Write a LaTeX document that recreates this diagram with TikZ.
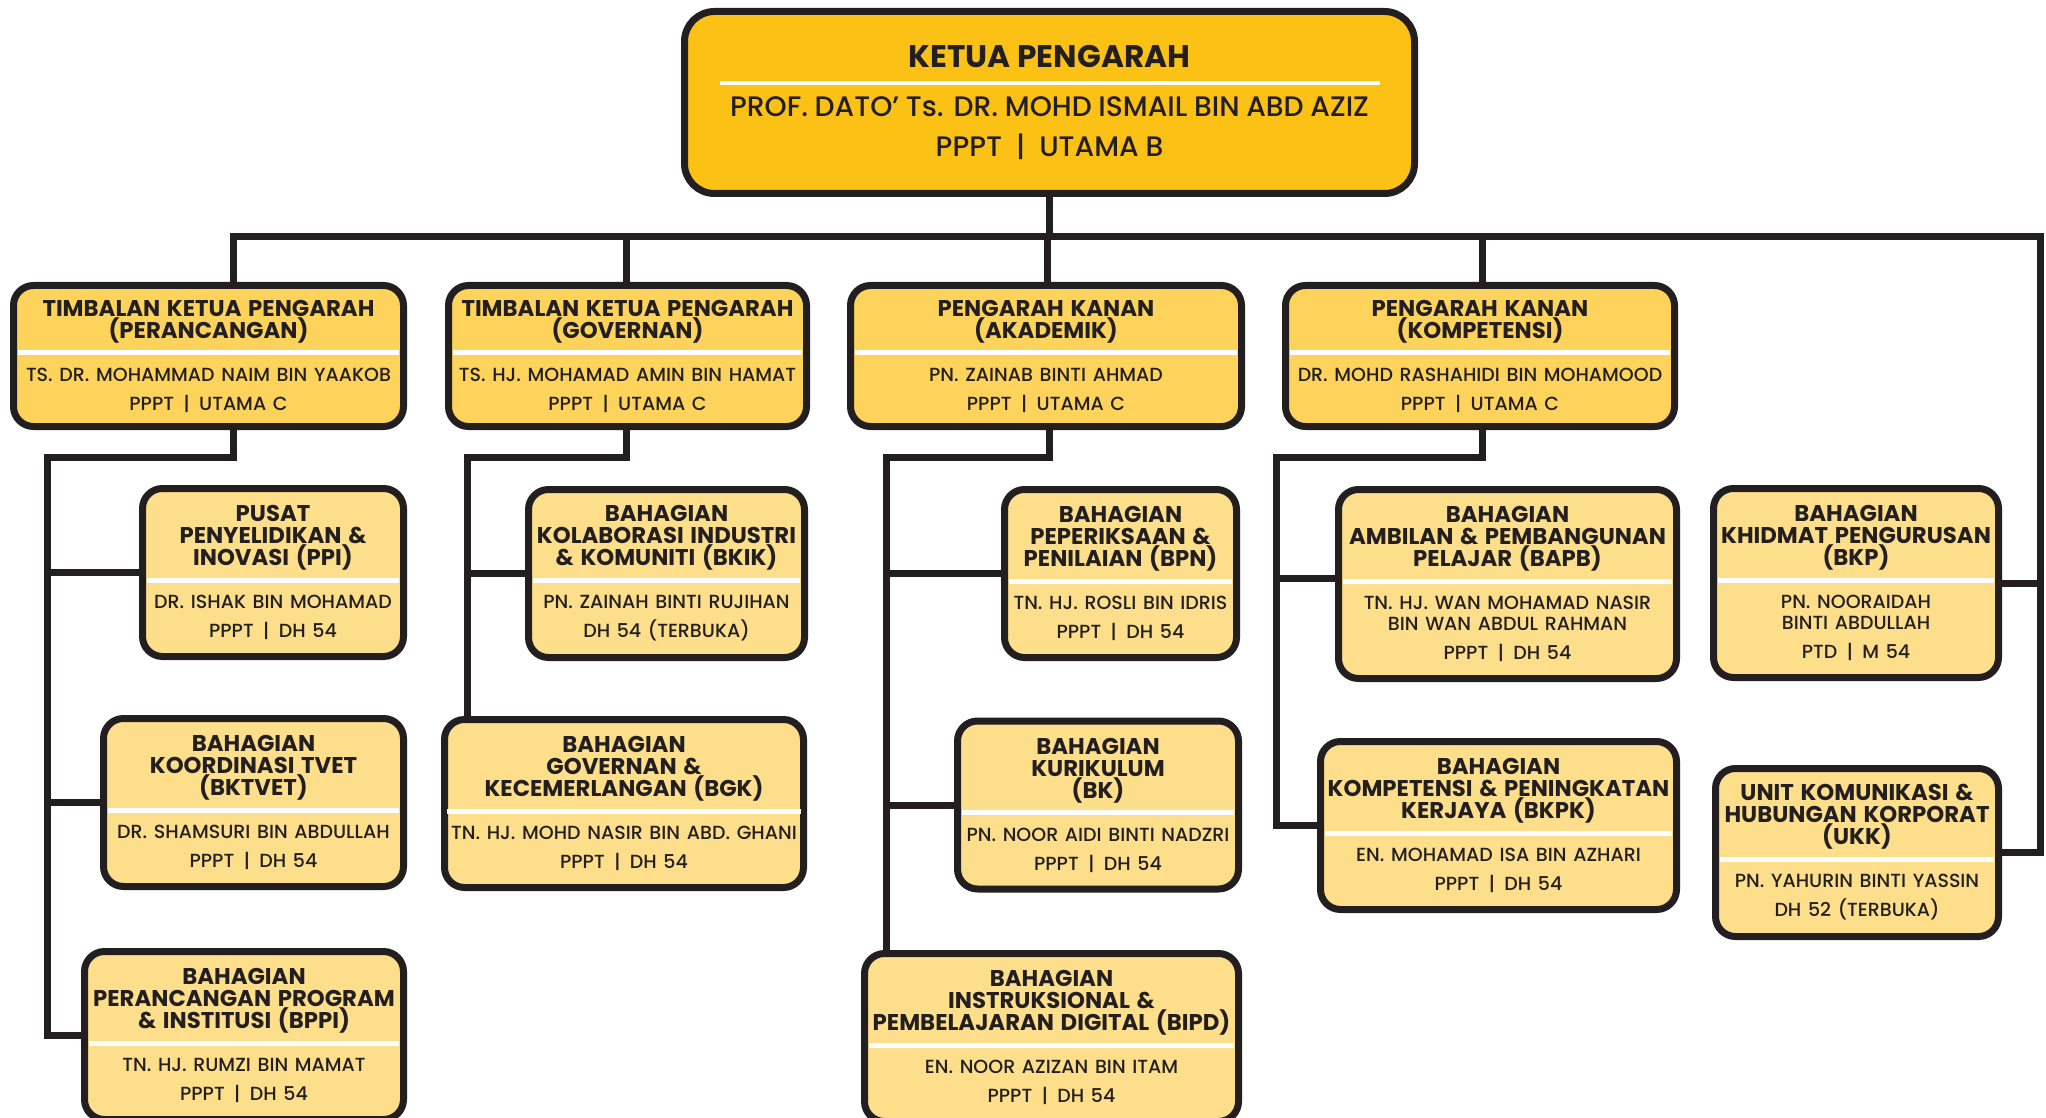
\documentclass[tikz,border=0pt]{standalone}
\usepackage{fontspec}
\setmainfont{Poppins}[UprightFont=* Medium, BoldFont=* Bold]
\usepackage{tikz}
\usetikzlibrary{positioning}
\setlength{\parindent}{0pt}

\definecolor{ink}{HTML}{231F20}
\definecolor{topfill}{HTML}{FBC114}
\definecolor{midfill}{HTML}{FDD35B}
\definecolor{lowfill}{HTML}{FDDE8A}

\newcommand{\ttlfont}{\fontsize{11.4}{11}\selectfont\bfseries}
\newcommand{\nmfont}{\fontsize{9.5}{10.5}\selectfont}
\newcommand{\sep}{\enspace|\enspace}
\newcommand{\orgtext}[3]{%
  {\ttlfont #1\par}%
  \vskip\dimexpr 6pt-\prevdepth\relax
  \nointerlineskip
  {\color{white}\hrule height 2.5pt}%
  \vskip 2.5pt\prevdepth=0pt
  {\nmfont #2\par}%
  \vskip 4pt
  {\nmfont #3\par}}

\begin{document}
\begin{tikzpicture}[x=0.5pt, y=-0.5pt,
  orgbox/.style={draw=ink, line width=3.5pt, text=ink, align=center, inner xsep=2.25pt, inner ysep=0pt},
  topbox/.style={orgbox, fill=topfill, rounded corners=15pt, minimum width=365pt, minimum height=91pt, text width=330pt},
  box2/.style={orgbox, fill=midfill, rounded corners=10pt, minimum height=70.5pt, text width=#1},
  box3/.style={orgbox, fill=lowfill, rounded corners=10pt, minimum height=84pt, text width=#1},
  conn/.style={draw=ink, line width=3.5pt}]

\useasboundingbox (0,0) rectangle (2046,1118);

% --- KETUA PENGARAH ---
\node[topbox] (ketua) at (1049.5,102.5) {{\fontsize{15.6}{16}\selectfont\bfseries KETUA PENGARAH\par}
  \vskip\dimexpr 6.5pt-\prevdepth\relax\nointerlineskip
  {\color{white}\hrule height 2pt}\vskip 2.25pt\prevdepth=0pt
  {\fontsize{14.1}{13.5}\selectfont PROF. DATO’ Ts. DR. MOHD ISMAIL BIN ABD AZIZ\par}
  \vskip 6.5pt
  {\fontsize{14.1}{13.5}\selectfont PPPT\sep UTAMA B\par}};

% --- Level 2 ---
\node[box2=190.5pt] (tkpP) at (208.5,356) {\orgtext{TIMBALAN KETUA PENGARAH\\(PERANCANGAN)}{TS. DR. MOHAMMAD NAIM BIN YAAKOB}{PPPT\sep UTAMA C}};
\node[box2=174.5pt] (tkpG) at (627.5,356) {\orgtext{TIMBALAN KETUA PENGARAH\\(GOVERNAN)}{TS. HJ. MOHAMAD AMIN BIN HAMAT}{PPPT\sep UTAMA C}};
\node[box2=191pt] (pkA) at (1046,356) {\orgtext{PENGARAH KANAN\\(AKADEMIK)}{PN. ZAINAB BINTI AHMAD}{PPPT\sep UTAMA C}};
\node[box2=190pt] (pkK) at (1480,356) {\orgtext{PENGARAH KANAN\\(KOMPETENSI)}{DR. MOHD RASHAHIDI BIN MOHAMOOD}{PPPT\sep UTAMA C}};

% --- Level 3: Perancangan ---
\node[box3=126pt] (ppi) at (273,572.5) {\orgtext{PUSAT\\PENYELIDIKAN \&\\INOVASI (PPI)}{DR. ISHAK BIN MOHAMAD}{PPPT\sep DH 54}};
\node[box3=145.5pt] (bktvet) at (253.5,802.5) {\orgtext{BAHAGIAN\\KOORDINASI TVET\\(BKTVET)}{DR. SHAMSURI BIN ABDULLAH}{PPPT\sep DH 54}};
\node[box3=155pt] (bppi) at (244,1035.5) {\orgtext{BAHAGIAN\\PERANCANGAN PROGRAM\\\& INSTITUSI (BPPI)}{TN. HJ. RUMZI BIN MAMAT}{PPPT\sep DH 54}};

% --- Level 3: Governan ---
\node[box3=133.5pt] (bkik) at (666.5,573.5) {\orgtext{BAHAGIAN\\KOLABORASI INDUSTRI\\\& KOMUNITI (BKIK)}{PN. ZAINAH BINTI RUJIHAN}{DH 54 (TERBUKA)}};
\node[box3=177pt, inner xsep=1.25pt] (bgk) at (624,803.5) {\orgtext{BAHAGIAN\\GOVERNAN \&\\KECEMERLANGAN (BGK)}{TN. HJ. MOHD NASIR BIN ABD. GHANI}{PPPT\sep DH 54}};

% --- Level 3: Akademik ---
\node[box3=111.5pt] (bpn) at (1120.5,573.5) {\orgtext{BAHAGIAN\\PEPERIKSAAN \&\\PENILAIAN (BPN)}{TN. HJ. ROSLI BIN IDRIS}{PPPT\sep DH 54}};
\node[box3=136pt] (bk) at (1098,805) {\orgtext{BAHAGIAN\\KURIKULUM\\(BK)}{PN. NOOR AIDI BINTI NADZRI}{PPPT\sep DH 54}};
\node[box3=182.5pt] (bipd) at (1051.5,1037.5) {\orgtext{BAHAGIAN\\INSTRUKSIONAL \&\\PEMBELAJARAN DIGITAL (BIPD)}{EN. NOOR AZIZAN BIN ITAM}{PPPT\sep DH 54}};

% --- Level 3: Kompetensi ---
\node[box3=164.5pt, minimum height=94.5pt] (bapb) at (1507.5,584) {\orgtext{BAHAGIAN\\AMBILAN \& PEMBANGUNAN\\PELAJAR (BAPB)}{TN. HJ. WAN MOHAMAD NASIR\\BIN WAN ABDUL RAHMAN}{PPPT\sep DH 54}};
\node[box3=173.5pt] (bkpk) at (1498.5,825.5) {\orgtext{BAHAGIAN\\KOMPETENSI \& PENINGKATAN\\KERJAYA (BKPK)}{EN. MOHAMAD ISA BIN AZHARI}{PPPT\sep DH 54}};

% --- Level 3: right column ---
\node[box3=138pt, minimum height=94.5pt] (bkp) at (1856,583) {\orgtext{BAHAGIAN\\KHIDMAT PENGURUSAN\\(BKP)}{PN. NOORAIDAH\\BINTI ABDULLAH}{PTD\sep M 54}};
\node[box3=137pt] (ukk) at (1857,852.5) {\orgtext{UNIT KOMUNIKASI \&\\HUBUNGAN KORPORAT\\(UKK)}{PN. YAHURIN BINTI YASSIN}{DH 52 (TERBUKA)}};

% --- Connectors ---
\coordinate (busL) at (233,237);
\coordinate (busR) at (2040,237);
\coordinate (dG) at (626,237);
\coordinate (dA) at (1047,237);
\coordinate (dK) at (1482,237);
\draw[conn] (ketua.south) -- (ketua.south |- busL);
\draw[conn] (busL |- tkpP.north) -- (busL) -- (busR) |- (ukk.east);
\draw[conn] (bkp.east -| busR) -- (bkp.east);
\draw[conn] (dG) -- (dG |- tkpG.north);
\draw[conn] (dA) -- (dA |- pkA.north);
\draw[conn] (dK) -- (dK |- pkK.north);

\coordinate (c1a) at (233,457);
\coordinate (c1b) at (47,457);
\draw[conn] (c1a |- tkpP.south) -- (c1a) -- (c1b) |- (bppi.west);
\draw[conn] (ppi.west -| c1b) -- (ppi.west);
\draw[conn] (bktvet.west -| c1b) -- (bktvet.west);

\coordinate (c2a) at (626,457);
\coordinate (c2b) at (467,457);
\draw[conn] (c2a |- tkpG.south) -- (c2a) -- (c2b) -- (c2b |- bgk.north);
\draw[conn] (bkik.west -| c2b) -- (bkik.west);

\coordinate (c3a) at (1049,457);
\coordinate (c3b) at (886,457);
\draw[conn] (c3a |- pkA.south) -- (c3a) -- (c3b) -- (c3b |- bipd.north);
\draw[conn] (bpn.west -| c3b) -- (bpn.west);
\draw[conn] (bk.west -| c3b) -- (bk.west);

\coordinate (c4a) at (1482,457);
\coordinate (c4b) at (1276,457);
\draw[conn] (c4a |- pkK.south) -- (c4a) -- (c4b) |- (bkpk.west);
\draw[conn] ([yshift=3pt]bapb.west -| c4b) -- ([yshift=3pt]bapb.west);
\end{tikzpicture}
\end{document}
